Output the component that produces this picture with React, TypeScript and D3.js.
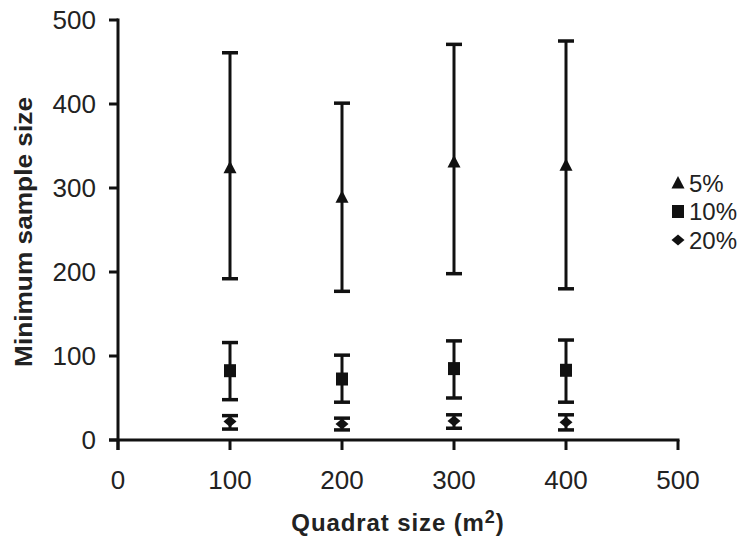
import React from "react";
import * as d3 from "d3";

// Quadrat sizes (m²) and the minimum sample size needed at each precision level
const quadratSizes = [100, 200, 300, 400];

const mean5 = [324, 289, 331, 327];
const lower5 = [192, 177, 198, 180];
const upper5 = [461, 401, 471, 475];

const mean10 = [82.5, 72.6, 85, 83];
const lower10 = [48, 45, 50, 45];
const upper10 = [116, 101, 118, 119];

const mean20 = [22, 19, 22.6, 21];
const lower20 = [13, 12, 14, 12];
const upper20 = [29, 26, 30, 30];

const xTicks = [0, 100, 200, 300, 400, 500];
const yTicks = [0, 100, 200, 300, 400, 500];

const seriesLabels = ["5%", "10%", "20%"];
const seriesShapes = ["triangle", "square", "diamond"];

const W = 751;
const H = 538;
const FONT = "'Liberation Sans', Arial, Helvetica, sans-serif";

const x = d3.scaleLinear().domain([0, 500]).range([118, 678]);
const y = d3.scaleLinear().domain([0, 500]).range([440, 20]);

function Marker({ shape, cx, cy }: { shape: string; cx: number; cy: number }) {
  if (shape === "triangle") {
    return <path d={`M${cx},${cy - 7} L${cx + 6.5},${cy + 5.5} L${cx - 6.5},${cy + 5.5} Z`} fill="#111" />;
  }
  if (shape === "square") {
    return <rect x={cx - 6} y={cy - 6.5} width={12} height={13} fill="#111" />;
  }
  return <path d={`M${cx},${cy - 5.5} L${cx + 6.5},${cy} L${cx},${cy + 5.5} L${cx - 6.5},${cy} Z`} fill="#111" />;
}

export default function App() {
  const series = [
    { shape: "triangle", mean: mean5, lo: lower5, hi: upper5 },
    { shape: "square", mean: mean10, lo: lower10, hi: upper10 },
    { shape: "diamond", mean: mean20, lo: lower20, hi: upper20 },
  ];
  const capHalf = 8;
  const ink = "#111";

  return (
    <svg
      width={W}
      height={H}
      style={{ position: "absolute", left: 0, top: 0, background: "#fff" }}
      fontFamily={FONT}
    >
      {/* error bars and markers */}
      {series.map((s, si) => (
        <g key={si}>
          {quadratSizes.map((q, i) => {
            const cx = x(q);
            return (
              <g key={i}>
                <line x1={cx} x2={cx} y1={y(s.lo[i])} y2={y(s.hi[i])} stroke={ink} strokeWidth={3} />
                <line x1={cx - capHalf} x2={cx + capHalf} y1={y(s.hi[i])} y2={y(s.hi[i])} stroke={ink} strokeWidth={3.5} />
                <line x1={cx - capHalf} x2={cx + capHalf} y1={y(s.lo[i])} y2={y(s.lo[i])} stroke={ink} strokeWidth={3.5} />
                <Marker shape={s.shape} cx={cx} cy={y(s.mean[i])} />
              </g>
            );
          })}
        </g>
      ))}

      {/* y axis */}
      <line x1={x(0)} x2={x(0)} y1={y(500) - 1.5} y2={y(0) + 10} stroke={ink} strokeWidth={3} />
      {yTicks.map((t) => (
        <g key={t}>
          <line x1={x(0) - 9} x2={x(0)} y1={y(t)} y2={y(t)} stroke={ink} strokeWidth={3} />
          <text x={96} y={y(t)} dy="0.36em" textAnchor="end" fontSize={26} fill="#222">
            {t}
          </text>
        </g>
      ))}

      {/* x axis */}
      <line x1={x(0) - 9} x2={x(500) + 1.5} y1={y(0)} y2={y(0)} stroke={ink} strokeWidth={3} />
      {xTicks.map((t) => (
        <g key={t}>
          <line x1={x(t)} x2={x(t)} y1={y(0)} y2={y(0) + 10} stroke={ink} strokeWidth={3} />
          <text x={x(t)} y={489} textAnchor="middle" fontSize={26} fill="#222">
            {t}
          </text>
        </g>
      ))}

      {/* axis titles */}
      <text x={398} y={531} textAnchor="middle" fontSize={24} fontWeight="bold" fill="#222" letterSpacing={0.9}>
        Quadrat size (m<tspan fontSize={18} dy={-8}>2</tspan>
        <tspan dy={8}>)</tspan>
      </text>
      <text
        transform={`translate(32,232) rotate(-90)`}
        textAnchor="middle"
        fontSize={24}
        fontWeight="bold"
        fill="#222"
        textLength={270}
        lengthAdjust="spacingAndGlyphs"
      >
        Minimum sample size
      </text>

      {/* legend */}
      {seriesLabels.map((lab, i) => {
        const cy = 183 + i * 28.5;
        return (
          <g key={lab}>
            <Marker shape={seriesShapes[i]} cx={678} cy={cy} />
            <text x={689} y={cy} dy="0.36em" fontSize={24} fill="#222">
              {lab}
            </text>
          </g>
        );
      })}
    </svg>
  );
}
